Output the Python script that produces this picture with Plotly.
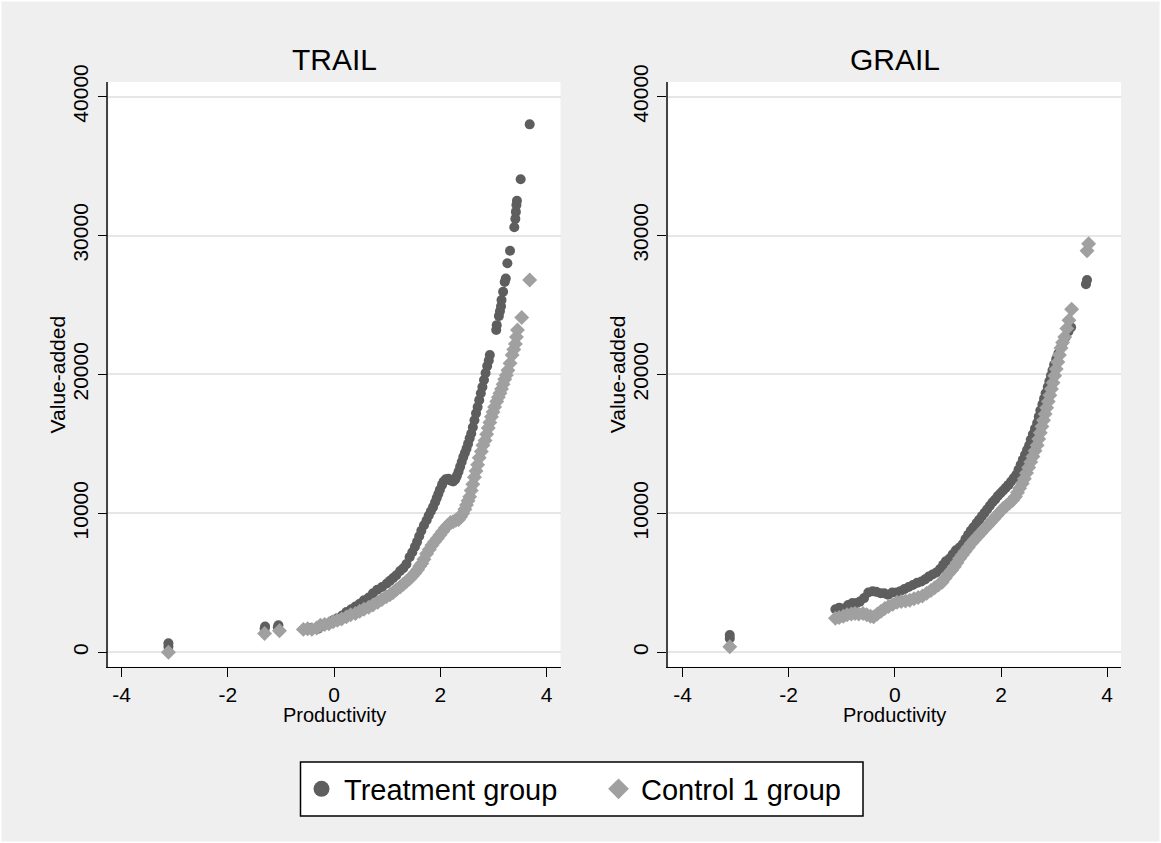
import plotly.graph_objects as go

# ---------------- data ----------------
panel_titles = ["TRAIL", "GRAIL"]
series_names = ["Treatment group", "Control 1 group"]
x_tick_vals = [-4, -2, 0, 2, 4]
x_tick_text = ["-4", "-2", "0", "2", "4"]
y_tick_vals = [0, 10000, 20000, 30000, 40000]
y_tick_text = ["0", "10000", "20000", "30000", "40000"]
x_title = "Productivity"
y_title = "Value-added"

trail_treat_x = [-3.12, -3.12, -1.31, -1.30, -1.06, -1.05, -0.45, -0.30, -0.22, -0.12,
                 -0.02, 0.06, 0.15, 0.23, 0.32, 0.40, 0.48, 0.56, 0.65, 0.73,
                 0.81, 0.90, 0.99, 1.05, 1.11, 1.17, 1.24, 1.30, 1.36, 1.42,
                 1.47, 1.52, 1.56, 1.60, 1.64, 1.69, 1.74, 1.78, 1.82, 1.86,
                 1.90, 1.93, 1.96, 1.99, 2.03, 2.06, 2.10, 2.15, 2.20, 2.24,
                 2.28, 2.31, 2.34, 2.37, 2.40, 2.43, 2.46, 2.49, 2.52, 2.55,
                 2.58, 2.61, 2.64, 2.67, 2.70, 2.73, 2.76, 2.79, 2.82, 2.85,
                 2.88, 2.91, 2.93, 3.05, 3.06, 3.10, 3.12, 3.14, 3.15, 3.18,
                 3.21, 3.23, 3.26, 3.31, 3.39, 3.41, 3.42, 3.43, 3.44, 3.51, 3.68]
trail_treat_y = [400, 650, 1700, 1850, 1800, 1950, 1750, 1700, 1900, 2050,
                 2300, 2450, 2650, 2900, 3100, 3300, 3500, 3750, 3950, 4250,
                 4500, 4700, 4950, 5150, 5350, 5550, 5850, 6050, 6350, 6850,
                 7200, 7600, 7950, 8350, 8750, 9150, 9500, 9850, 10150, 10450,
                 10800, 11100, 11400, 11700, 12050, 12300, 12450, 12500, 12350, 12300,
                 12450, 12700, 13000, 13350, 13700, 14050, 14350, 14650, 15000, 15400,
                 15750, 16200, 16700, 17200, 17650, 18150, 18650, 19100, 19600, 20100,
                 20600, 21000, 21400, 23200, 23550, 24200, 24550, 24900, 25350, 25950,
                 26650, 26900, 28000, 28900, 30600, 31200, 31700, 32200, 32500, 34050, 38000]

trail_ctrl_x = [-3.12, -1.31, -1.03, -0.58, -0.50, -0.42, -0.33, -0.26, -0.18, -0.10,
                -0.02, 0.06, 0.14, 0.23, 0.31, 0.40, 0.48, 0.56, 0.65, 0.73,
                0.82, 0.90, 0.98, 1.05, 1.11, 1.17, 1.24, 1.30, 1.36, 1.42,
                1.47, 1.52, 1.57, 1.61, 1.65, 1.69, 1.74, 1.79, 1.84, 1.89,
                1.94, 1.99, 2.04, 2.09, 2.14, 2.19, 2.24, 2.29, 2.34, 2.38,
                2.42, 2.46, 2.49, 2.52, 2.55, 2.58, 2.61, 2.64, 2.67, 2.70,
                2.73, 2.77, 2.80, 2.84, 2.87, 2.90, 2.93, 2.96, 2.99, 3.02,
                3.06, 3.09, 3.12, 3.15, 3.18, 3.21, 3.24, 3.27, 3.31, 3.35,
                3.38, 3.41, 3.43, 3.45, 3.53, 3.68]
trail_ctrl_y = [0, 1350, 1550, 1650, 1700, 1650, 1750, 1950, 2000, 2050,
                2200, 2300, 2400, 2550, 2700, 2800, 2950, 3100, 3250, 3400,
                3600, 3800, 4000, 4150, 4300, 4500, 4700, 4900, 5100, 5300,
                5500, 5700, 5950, 6200, 6400, 6700, 7100, 7400, 7700, 7950,
                8200, 8450, 8700, 8950, 9150, 9350, 9400, 9500, 9550, 9750,
                10000, 10300, 10600, 10900, 11200, 11650, 12100, 12600, 13050, 13500,
                14000, 14450, 14900, 15250, 15700, 16150, 16550, 16950, 17300, 17650,
                18050, 18350, 18650, 18950, 19300, 19650, 19950, 20300, 20800, 21400,
                21800, 22200, 22700, 23200, 24100, 26800]

grail_treat_x = [-3.11, -3.11, -1.12, -1.05, -0.97, -0.88, -0.80, -0.72, -0.66, -0.58,
                 -0.50, -0.42, -0.35, -0.27, -0.20, -0.13, -0.05, 0.03, 0.10, 0.18,
                 0.26, 0.34, 0.42, 0.50, 0.57, 0.64, 0.71, 0.78, 0.85, 0.91,
                 0.96, 1.03, 1.09, 1.15, 1.22, 1.28, 1.33, 1.38, 1.43, 1.48,
                 1.54, 1.59, 1.64, 1.69, 1.74, 1.79, 1.84, 1.89, 1.94, 1.99,
                 2.04, 2.09, 2.14, 2.19, 2.24, 2.29, 2.33, 2.37, 2.41, 2.45,
                 2.49, 2.53, 2.56, 2.60, 2.64, 2.68, 2.71, 2.74, 2.78, 2.81,
                 2.84, 2.88, 2.91, 2.94, 2.97, 3.00, 3.04, 3.08, 3.12, 3.17,
                 3.22, 3.27, 3.32, 3.60, 3.62]
grail_treat_y = [1000, 1250, 3100, 3200, 3150, 3400, 3550, 3550, 3650, 3900,
                 4300, 4400, 4350, 4250, 4250, 4150, 4300, 4300, 4400, 4550,
                 4700, 4850, 5000, 5100, 5250, 5450, 5600, 5750, 6000, 6300,
                 6550, 6750, 7050, 7350, 7550, 7800, 8150, 8450, 8750, 9000,
                 9300, 9550, 9800, 10050, 10300, 10550, 10800, 11000, 11250, 11450,
                 11650, 11850, 12050, 12300, 12550, 12800, 13150, 13500, 13850, 14200,
                 14550, 14900, 15300, 15700, 16100, 16500, 16950, 17400, 17850, 18250,
                 18650, 19100, 19500, 19900, 20300, 20700, 21100, 21500, 21900, 22300,
                 22700, 23100, 23400, 26500, 26800]

grail_ctrl_x = [-3.11, -1.12, -1.05, -0.97, -0.90, -0.82, -0.75, -0.68, -0.60, -0.53,
                -0.46, -0.40, -0.33, -0.26, -0.19, -0.12, -0.04, 0.04, 0.12, 0.20,
                0.28, 0.36, 0.44, 0.52, 0.60, 0.68, 0.75, 0.82, 0.89, 0.95,
                1.01, 1.07, 1.12, 1.17, 1.22, 1.27, 1.32, 1.38, 1.44, 1.50,
                1.56, 1.62, 1.68, 1.74, 1.80, 1.86, 1.92, 1.98, 2.04, 2.10,
                2.16, 2.22, 2.27, 2.31, 2.35, 2.40, 2.44, 2.48, 2.52, 2.56,
                2.60, 2.64, 2.68, 2.71, 2.74, 2.77, 2.80, 2.83, 2.86, 2.89,
                2.92, 2.95, 2.98, 3.01, 3.04, 3.07, 3.10, 3.13, 3.16, 3.20,
                3.24, 3.28, 3.33, 3.62, 3.65]
grail_ctrl_y = [400, 2450, 2500, 2600, 2700, 2750, 2800, 2750, 2800, 2700,
                2600, 2550, 2750, 2950, 3150, 3300, 3450, 3600, 3650, 3700,
                3750, 3850, 3950, 4050, 4250, 4450, 4650, 4850, 5050, 5350,
                5650, 5900, 6150, 6450, 6750, 7000, 7250, 7550, 7850, 8100,
                8350, 8600, 8850, 9100, 9350, 9600, 9850, 10100, 10350, 10550,
                10750, 10950, 11200, 11500, 11800, 12150, 12500, 12900, 13300, 13700,
                14100, 14500, 14900, 15350, 15800, 16250, 16700, 17150, 17600, 18050,
                18500, 18950, 19400, 19900, 20400, 20900, 21400, 21900, 22300, 22700,
                23300, 23900, 24700, 28900, 29400]

# ---------------- styling ----------------
W, H = 1161, 843
FONT = "Liberation Sans, Arial, sans-serif"
TREAT_COLOR = "#5e5e5e"
CTRL_COLOR = "#a0a0a0"
BG = "#efefef"


def px_x(p):
    return p / W


def px_y(p):
    return 1 - p / H


x_dom_left = [px_x(108.4), px_x(560.5)]
x_dom_right = [px_x(668.2), px_x(1121.0)]
y_dom = [px_y(666.7), px_y(82.0)]

fig = go.Figure()

panels = [
    ("x", "y", trail_treat_x, trail_treat_y, trail_ctrl_x, trail_ctrl_y),
    ("x2", "y2", grail_treat_x, grail_treat_y, grail_ctrl_x, grail_ctrl_y),
]
for xa, ya, tx, ty, cx, cy in panels:
    fig.add_trace(go.Scatter(x=tx, y=ty, mode="markers", xaxis=xa, yaxis=ya,
                             marker=dict(symbol="circle", size=10, color=TREAT_COLOR,
                                         line=dict(width=0)),
                             showlegend=False, hoverinfo="skip"))
    fig.add_trace(go.Scatter(x=cx, y=cy, mode="markers", xaxis=xa, yaxis=ya,
                             marker=dict(symbol="diamond", size=11.5, color=CTRL_COLOR,
                                         line=dict(width=0)),
                             showlegend=False, hoverinfo="skip"))

# legend entries (one per legend so the spacing can match the reference)
fig.add_trace(go.Scatter(x=[None], y=[None], mode="markers", name=series_names[0],
                         legend="legend",
                         marker=dict(symbol="circle", size=16, color=TREAT_COLOR)))
fig.add_trace(go.Scatter(x=[None], y=[None], mode="markers", name=series_names[1],
                         legend="legend2",
                         marker=dict(symbol="diamond", size=16, color=CTRL_COLOR)))

tickfont = dict(family=FONT, size=21, color="black")
x_common = dict(tickvals=x_tick_vals, ticktext=x_tick_text, ticks="outside", ticklen=9,
                tickwidth=1, tickcolor="black", showline=True, linecolor="black",
                linewidth=1, showgrid=False, zeroline=False, tickfont=tickfont,
                automargin=False)
y_common = dict(tickvals=y_tick_vals, ticktext=y_tick_text, ticks="outside", ticklen=9,
                tickwidth=1, tickcolor="black", showline=True, linecolor="#444444",
                linewidth=1.5, showgrid=True, gridcolor="#e6e6e6", gridwidth=2,
                zeroline=False, range=[-1036, 41050], domain=y_dom, tickangle=-90,
                tickfont=tickfont, automargin=False, ticklabelstandoff=1)

legend_common = dict(orientation="h", yanchor="middle", y=px_y(789), xanchor="left",
                     bgcolor="rgba(0,0,0,0)", borderwidth=0, itemwidth=35,
                     font=dict(family=FONT, size=29, color="black"))

fig.update_layout(
    width=W, height=H,
    margin=dict(l=0, r=0, t=0, b=0, autoexpand=False),
    paper_bgcolor=BG, plot_bgcolor="white",
    font=dict(family=FONT, color="black"),
    xaxis=dict(domain=x_dom_left, range=[-4.25, 4.26], anchor="y", **x_common),
    yaxis=dict(anchor="x", **y_common),
    xaxis2=dict(domain=x_dom_right, range=[-4.27, 4.26], anchor="y2", **x_common),
    yaxis2=dict(anchor="x2", **y_common),
    showlegend=True,
    legend=dict(x=px_x(299), **legend_common),
    legend2=dict(x=px_x(596), **legend_common),
)

annotations = []
for title, dom in zip(panel_titles, [x_dom_left, x_dom_right]):
    cx = (dom[0] + dom[1]) / 2
    annotations.append(dict(text=title, x=cx, y=px_y(59), xref="paper", yref="paper",
                            xanchor="center", yanchor="middle", showarrow=False,
                            font=dict(family=FONT, size=30, color="black")))
    annotations.append(dict(text=x_title, x=cx, y=px_y(715), xref="paper", yref="paper",
                            xanchor="center", yanchor="middle", showarrow=False,
                            font=dict(family=FONT, size=20, color="black")))
for axx in [108.4, 668.2]:
    annotations.append(dict(text=y_title, x=px_x(axx - 51), y=px_y(374),
                            xref="paper", yref="paper", xanchor="center", yanchor="middle",
                            textangle=-90, showarrow=False,
                            font=dict(family=FONT, size=21, color="black")))
fig.update_layout(annotations=annotations)

# thin white frame round the whole graph, and the legend box
fig.add_shape(type="rect", xref="paper", yref="paper", x0=0, x1=1, y0=0, y1=1,
              line=dict(color="white", width=3), fillcolor="rgba(0,0,0,0)", layer="below")
fig.add_shape(type="rect", xref="paper", yref="paper",
              x0=px_x(300.5), x1=px_x(863), y0=px_y(816), y1=px_y(762),
              line=dict(color="black", width=1.5), fillcolor="white", layer="below")

fig.write_html("out.html", config={"displayModeBar": False},
               post_script="document.body.style.margin='0';document.body.style.overflow='hidden';")
